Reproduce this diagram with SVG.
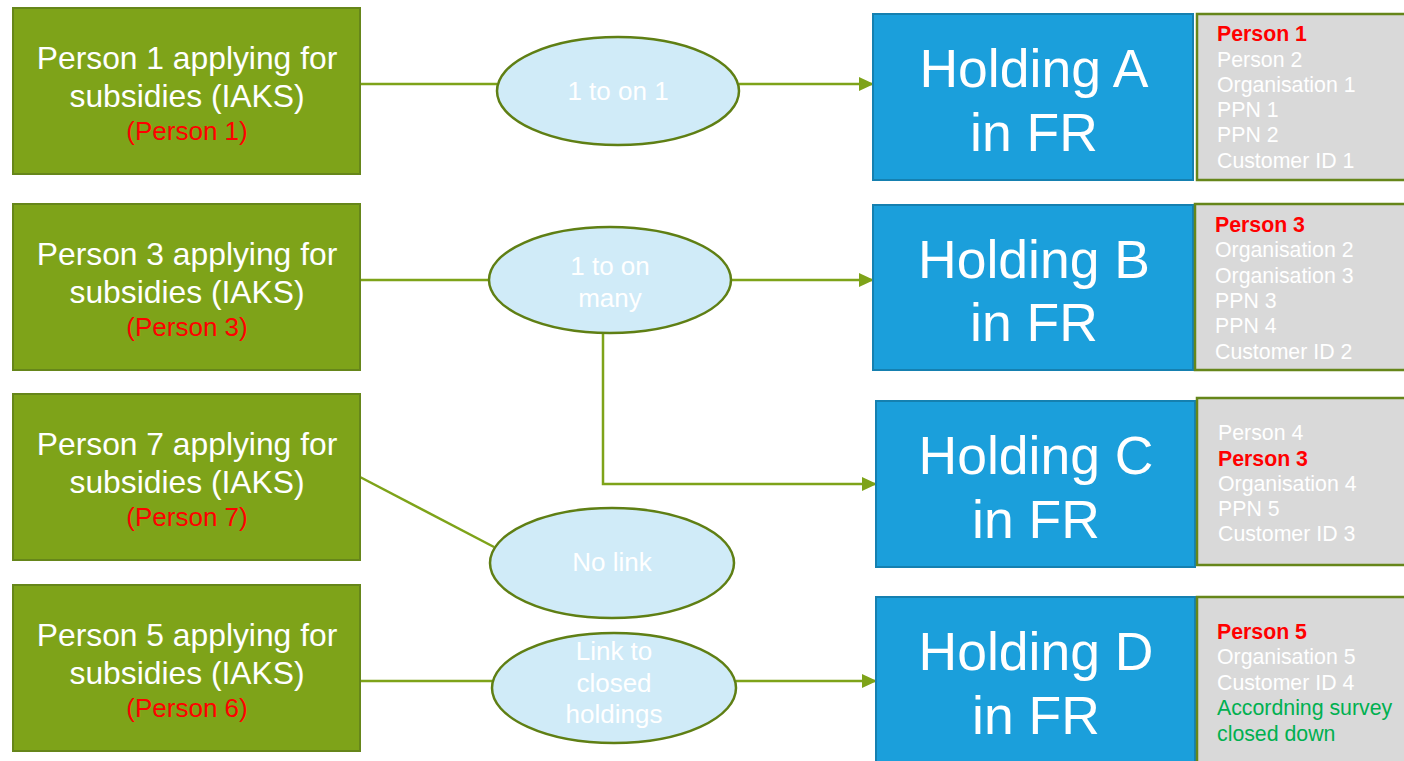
<svg xmlns="http://www.w3.org/2000/svg" width="1404" height="761" viewBox="0 0 1404 761">
<defs>
<marker id="arr" markerWidth="15" markerHeight="14" refX="15" refY="7" orient="auto" markerUnits="userSpaceOnUse"><path d="M0,0 L15,7 L0,14 Z" fill="#7EA319"/></marker>
<style>
text{font-family:"Liberation Sans",Arial,sans-serif}
.pbox{fill:#7EA319;stroke:#66861A;stroke-width:2}
.pt{fill:#fff;font-size:31.8px;text-anchor:middle}
.pr{fill:#FF0000;font-size:26px;text-anchor:middle}
.ell{fill:#D0EBF8;stroke:#5F7F14;stroke-width:2.5}
.et{fill:#fff;font-size:26px;text-anchor:middle}
.hbox{fill:#1B9FDB;stroke:#1580B0;stroke-width:2}
.ht{fill:#fff;font-size:53.5px;text-anchor:middle}
.gbox{fill:#D9D9D9;stroke:#66861A;stroke-width:2.5}
.gt{fill:#fff;font-size:21.3px}
.gr{fill:#FF0000;font-size:21.3px;font-weight:bold}
.gg{fill:#00B050;font-size:21.3px}
.con{fill:none;stroke:#7EA319;stroke-width:2.5}
</style>
</defs>
<rect width="1404" height="761" fill="#fff"/>
<g id="connectors">
<line class="con" x1="360" y1="84" x2="497" y2="84"/>
<line class="con" x1="739" y1="84" x2="874" y2="84" marker-end="url(#arr)"/>
<line class="con" x1="360" y1="280" x2="488" y2="280"/>
<line class="con" x1="731" y1="280" x2="874" y2="280" marker-end="url(#arr)"/>
<polyline class="con" points="603,333 603,484 877,484" marker-end="url(#arr)"/>
<line class="con" x1="360" y1="477" x2="494" y2="547"/>
<line class="con" x1="360" y1="681" x2="493" y2="681"/>
<line class="con" x1="736" y1="681" x2="877" y2="681" marker-end="url(#arr)"/>
</g>
<g id="person1"><rect class="pbox" x="13" y="8" width="347" height="166"/><text class="pt" x="187" y="69">Person 1 applying for</text><text class="pt" x="187" y="107">subsidies (IAKS)</text><text class="pr" x="187" y="140">(Person 1)</text></g>
<g id="person3"><rect class="pbox" x="13" y="204" width="347" height="166"/><text class="pt" x="187" y="265">Person 3 applying for</text><text class="pt" x="187" y="303">subsidies (IAKS)</text><text class="pr" x="187" y="336">(Person 3)</text></g>
<g id="person7"><rect class="pbox" x="13" y="394" width="347" height="166"/><text class="pt" x="187" y="455">Person 7 applying for</text><text class="pt" x="187" y="493">subsidies (IAKS)</text><text class="pr" x="187" y="526">(Person 7)</text></g>
<g id="person5"><rect class="pbox" x="13" y="585" width="347" height="166"/><text class="pt" x="187" y="646">Person 5 applying for</text><text class="pt" x="187" y="684">subsidies (IAKS)</text><text class="pr" x="187" y="717">(Person 6)</text></g>
<g id="e1"><ellipse class="ell" cx="618" cy="91" rx="121" ry="54"/><text class="et" x="618" y="100">1 to on 1</text></g>
<g id="e2"><ellipse class="ell" cx="610" cy="280" rx="121" ry="53"/><text class="et" x="610" y="275">1 to on</text><text class="et" x="610" y="307">many</text></g>
<g id="e3"><ellipse class="ell" cx="612" cy="563" rx="122" ry="55"/><text class="et" x="612" y="571">No link</text></g>
<g id="e4"><ellipse class="ell" cx="614" cy="688" rx="122" ry="55"/><text class="et" x="614" y="660">Link to</text><text class="et" x="614" y="692">closed</text><text class="et" x="614" y="723">holdings</text></g>
<g id="holdingA"><rect class="hbox" x="873" y="14" width="320" height="166"/><text class="ht" x="1034" y="87">Holding A</text><text class="ht" x="1034" y="151">in FR</text></g>
<g id="holdingB"><rect class="hbox" x="873" y="205" width="320" height="165"/><text class="ht" x="1034" y="278">Holding B</text><text class="ht" x="1034" y="341">in FR</text></g>
<g id="holdingC"><rect class="hbox" x="876" y="401" width="319" height="166"/><text class="ht" x="1036" y="474">Holding C</text><text class="ht" x="1036" y="538">in FR</text></g>
<g id="holdingD"><rect class="hbox" x="876" y="597" width="319" height="170"/><text class="ht" x="1036" y="670">Holding D</text><text class="ht" x="1036" y="734">in FR</text></g>
<g id="infoA"><rect class="gbox" x="1197" y="14" width="212" height="166"/>
<text class="gr" x="1217" y="41">Person 1</text><text class="gt" x="1217" y="67">Person 2</text><text class="gt" x="1217" y="92">Organisation 1</text><text class="gt" x="1217" y="117">PPN 1</text><text class="gt" x="1217" y="142">PPN 2</text><text class="gt" x="1217" y="168">Customer ID 1</text></g>
<g id="infoB"><rect class="gbox" x="1195" y="204" width="214" height="166"/>
<text class="gr" x="1215" y="232">Person 3</text><text class="gt" x="1215" y="257">Organisation 2</text><text class="gt" x="1215" y="283">Organisation 3</text><text class="gt" x="1215" y="308">PPN 3</text><text class="gt" x="1215" y="333">PPN 4</text><text class="gt" x="1215" y="359">Customer ID 2</text></g>
<g id="infoC"><rect class="gbox" x="1197" y="398" width="212" height="167"/>
<text class="gt" x="1218" y="440">Person 4</text><text class="gr" x="1218" y="466">Person 3</text><text class="gt" x="1218" y="491">Organisation 4</text><text class="gt" x="1218" y="516">PPN 5</text><text class="gt" x="1218" y="541">Customer ID 3</text></g>
<g id="infoD"><rect class="gbox" x="1197" y="597" width="212" height="170"/>
<text class="gr" x="1217" y="639">Person 5</text><text class="gt" x="1217" y="664">Organisation 5</text><text class="gt" x="1217" y="690">Customer ID 4</text><text class="gg" x="1217" y="715">Accordning survey</text><text class="gg" x="1217" y="741">closed down</text></g>
</svg>
